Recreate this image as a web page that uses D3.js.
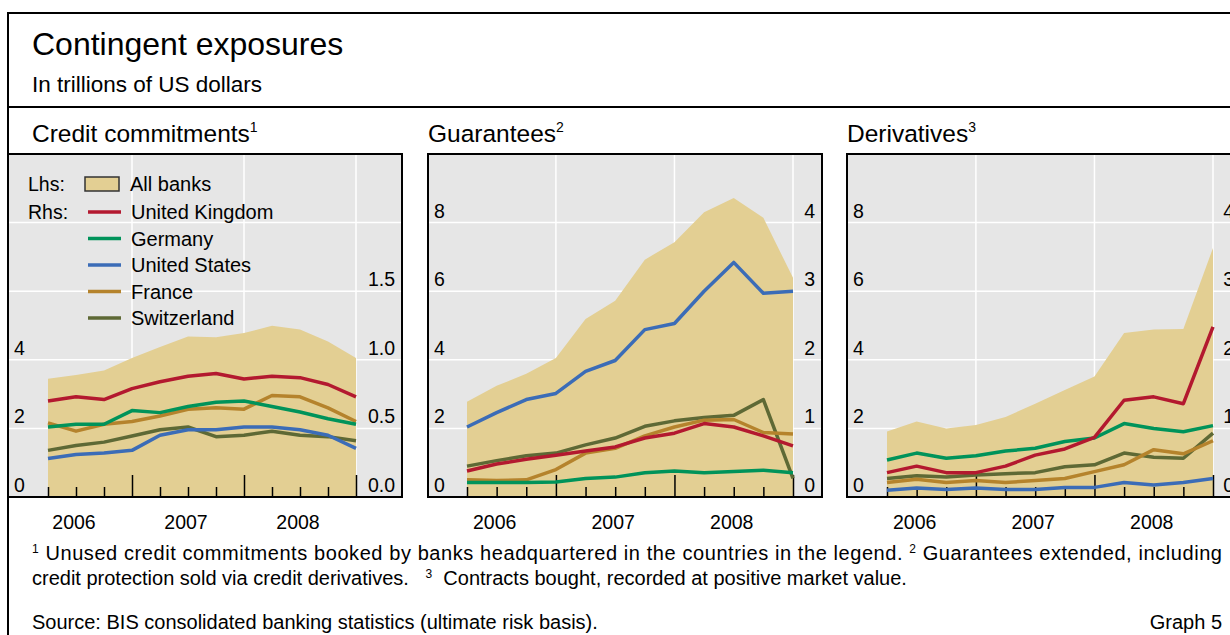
<!DOCTYPE html>
<html>
<head>
<meta charset="utf-8">
<title>Contingent exposures</title>
<style>
  body { margin: 0; background: #fff; }
  svg text { font-family: "Liberation Sans", Arial, sans-serif; fill: #000; }
</style>
</head>
<body>
<script src="https://cdn.jsdelivr.net/npm/d3@7"></script>
<script>
// quarterly observations, end of quarter
var quarters = ["2006Q1","2006Q2","2006Q3","2006Q4","2007Q1","2007Q2","2007Q3","2007Q4","2008Q1","2008Q2","2008Q3","2008Q4"];
var years = [2006, 2007, 2008];

// Credit commitments (all banks lhs, countries rhs)
var creditAllBanks    = [3.45, 3.56, 3.69, 4.05, 4.37, 4.68, 4.66, 4.78, 4.99, 4.88, 4.53, 4.05];
var creditUK          = [0.70, 0.73, 0.71, 0.79, 0.84, 0.88, 0.90, 0.86, 0.88, 0.87, 0.82, 0.73];
var creditGermany     = [0.51, 0.53, 0.53, 0.63, 0.615, 0.66, 0.69, 0.70, 0.66, 0.62, 0.57, 0.53];
var creditUS          = [0.28, 0.31, 0.32, 0.34, 0.45, 0.49, 0.49, 0.51, 0.51, 0.49, 0.45, 0.355];
var creditFrance      = [0.54, 0.48, 0.53, 0.55, 0.59, 0.64, 0.65, 0.64, 0.74, 0.73, 0.65, 0.55];
var creditSwitzerland = [0.34, 0.375, 0.40, 0.445, 0.49, 0.51, 0.44, 0.45, 0.48, 0.45, 0.44, 0.41];

// Guarantees
var guarAllBanks    = [2.78, 3.24, 3.59, 4.05, 5.19, 5.72, 6.92, 7.43, 8.30, 8.72, 8.14, 6.39];
var guarUK          = [0.38, 0.48, 0.55, 0.61, 0.67, 0.73, 0.86, 0.93, 1.07, 1.02, 0.89, 0.745];
var guarGermany     = [0.21, 0.21, 0.21, 0.22, 0.27, 0.29, 0.355, 0.38, 0.355, 0.37, 0.39, 0.355];
var guarUS          = [1.02, 1.23, 1.42, 1.51, 1.83, 1.99, 2.44, 2.53, 3.00, 3.42, 2.97, 3.00];
var guarFrance      = [0.25, 0.24, 0.25, 0.40, 0.64, 0.71, 0.89, 1.02, 1.12, 1.13, 0.94, 0.92];
var guarSwitzerland = [0.45, 0.53, 0.60, 0.64, 0.76, 0.86, 1.03, 1.11, 1.16, 1.19, 1.42, 0.27];

// Derivatives
var derivAllBanks    = [1.91, 2.20, 2.00, 2.10, 2.33, 2.72, 3.12, 3.51, 4.78, 4.88, 4.90, 7.26];
var derivUK          = [0.355, 0.45, 0.355, 0.355, 0.45, 0.61, 0.70, 0.87, 1.41, 1.46, 1.36, 2.48];
var derivGermany     = [0.54, 0.64, 0.565, 0.60, 0.67, 0.71, 0.81, 0.86, 1.07, 1.00, 0.95, 1.04];
var derivUS          = [0.10, 0.13, 0.11, 0.13, 0.11, 0.11, 0.14, 0.14, 0.21, 0.175, 0.21, 0.27];
var derivFrance      = [0.21, 0.26, 0.21, 0.24, 0.21, 0.24, 0.27, 0.37, 0.47, 0.69, 0.63, 0.82];
var derivSwitzerland = [0.27, 0.31, 0.29, 0.32, 0.34, 0.355, 0.44, 0.47, 0.64, 0.58, 0.565, 0.93];

var countryNames = ["United Kingdom", "Germany", "United States", "France", "Switzerland"];
var countryColors = ["#b3192f", "#00935a", "#3b6cb7", "#b5832c", "#5e6935"];
var areaColor = "#e3cf93";
var plotBg = "#e6e6e6";

var panels = [
  { title: "Credit commitments", sup: "1", left: 8, titleX: 32, dataLeft: 48, dataRight: 356,
    all: creditAllBanks, countries: [creditUK, creditGermany, creditUS, creditFrance, creditSwitzerland],
    leftLabels: [0, 2, 4], rightLabels: [0, 0.5, 1, 1.5], rightMax: 2.5, rightFmt: d3.format(".1f") },
  { title: "Guarantees", sup: "2", left: 428, titleX: 428, dataLeft: 467, dataRight: 793,
    all: guarAllBanks, countries: [guarUK, guarGermany, guarUS, guarFrance, guarSwitzerland],
    leftLabels: [0, 2, 4, 6, 8], rightLabels: [0, 1, 2, 3, 4], rightMax: 5, rightFmt: d3.format("d") },
  { title: "Derivatives", sup: "3", left: 847, titleX: 847, dataLeft: 887, dataRight: 1213,
    all: derivAllBanks, countries: [derivUK, derivGermany, derivUS, derivFrance, derivSwitzerland],
    leftLabels: [0, 2, 4, 6, 8], rightLabels: [0, 1, 2, 3, 4], rightMax: 5, rightFmt: d3.format("d") }
];

var width = 1230, height = 635;
var boxW = 394, boxTop = 154, boxBottom = 497;
var fs = "19.5px";

var svg = d3.select("body").append("svg")
    .attr("width", width)
    .attr("height", height);

// outer frame
svg.append("rect")
    .attr("x", 8).attr("y", 13)
    .attr("width", 1300).attr("height", 700)
    .attr("fill", "none").attr("stroke", "#000").attr("stroke-width", 2);
svg.append("line")
    .attr("x1", 8).attr("x2", width).attr("y1", 107).attr("y2", 107)
    .attr("stroke", "#000").attr("stroke-width", 2);

svg.append("text").attr("x", 32).attr("y", 55)
    .style("font-size", "32px").text("Contingent exposures");
svg.append("text").attr("x", 32).attr("y", 92)
    .style("font-size", "22.5px").text("In trillions of US dollars");

var quarterPos = quarters.map(function (q) {
    return +q.slice(0, 4) + (+q.slice(5)) / 4;
});

panels.forEach(function (p) {
    var g = svg.append("g");

    var x = d3.scaleLinear().domain([quarterPos[0], quarterPos[quarterPos.length - 1]])
        .range([p.dataLeft, p.dataRight]);
    var yL = d3.scaleLinear().domain([0, 10]).range([boxBottom, boxTop]);
    var yR = d3.scaleLinear().domain([0, p.rightMax]).range([boxBottom, boxTop]);

    // panel title
    var t = g.append("text").attr("x", p.titleX).attr("y", 142).style("font-size", "24.5px");
    t.append("tspan").text(p.title);
    t.append("tspan").attr("dy", -10).style("font-size", "14px").text(p.sup);

    // background
    g.append("rect")
        .attr("x", p.left).attr("y", boxTop)
        .attr("width", boxW).attr("height", boxBottom - boxTop)
        .attr("fill", plotBg);

    // horizontal gridlines
    g.selectAll(".hgrid").data([2, 4, 6, 8]).enter().append("line")
        .attr("x1", p.left).attr("x2", p.left + boxW)
        .attr("y1", function (d) { return yL(d); })
        .attr("y2", function (d) { return yL(d); })
        .attr("stroke", "#fff").attr("stroke-width", 1.5);

    // vertical gridlines at year ends
    var yearEnds = quarterPos.filter(function (d, i) { return quarters[i].slice(5) === "4"; });
    g.selectAll(".vgrid").data(yearEnds).enter().append("line")
        .attr("x1", function (d) { return x(d); })
        .attr("x2", function (d) { return x(d); })
        .attr("y1", boxTop).attr("y2", boxBottom)
        .attr("stroke", "#fff").attr("stroke-width", 1.5);

    // all banks area (lhs)
    var area = d3.area()
        .x(function (d, i) { return x(quarterPos[i]); })
        .y0(yL(0))
        .y1(function (d) { return yL(d); });
    g.append("path").datum(p.all)
        .attr("d", area)
        .attr("fill", areaColor);

    // tick marks
    var xAxis = d3.axisTop(x).tickValues(quarterPos).tickSizeInner(10).tickSizeOuter(0).tickFormat("");
    var ax = g.append("g").attr("transform", "translate(0," + boxBottom + ")").call(xAxis);
    ax.select(".domain").remove();
    ax.selectAll(".tick line")
        .attr("stroke", "#000").attr("stroke-width", 1.5)
        .attr("y2", function (d) { return (Math.abs(d - Math.round(d)) < 1e-6) ? -22 : -10; });

    // country lines (rhs)
    var line = d3.line()
        .x(function (d, i) { return x(quarterPos[i]); })
        .y(function (d) { return yR(d); });
    var order = [4, 3, 2, 1, 0];
    order.forEach(function (k) {
        g.append("path").datum(p.countries[k])
            .attr("d", line)
            .attr("fill", "none")
            .attr("stroke", countryColors[k])
            .attr("stroke-width", 3.5)
            .attr("stroke-linejoin", "round");
    });

    // axis labels
    g.selectAll(".lab").data(p.leftLabels).enter().append("text")
        .attr("x", p.left + 6)
        .attr("y", function (d) { return yL(d) - 5; })
        .style("font-size", fs)
        .text(function (d) { return d; });
    g.selectAll(".rab").data(p.rightLabels).enter().append("text")
        .attr("x", p.left + boxW - 7)
        .attr("y", function (d) { return yR(d) - 5; })
        .attr("text-anchor", "end")
        .style("font-size", fs)
        .text(function (d) { return p.rightFmt(d); });

    // border
    g.append("rect")
        .attr("x", p.left).attr("y", boxTop)
        .attr("width", boxW).attr("height", boxBottom - boxTop)
        .attr("fill", "none").attr("stroke", "#000").attr("stroke-width", 2);

    // year labels
    g.selectAll(".yr").data(years).enter().append("text")
        .attr("x", function (d) { return x(d + 0.5) - 2; })
        .attr("y", 529)
        .attr("text-anchor", "middle")
        .style("font-size", fs)
        .text(function (d) { return d; });

    // legend in first panel
    if (p.sup === "1") {
        var lg = g.append("g");
        lg.append("text").attr("x", 28).attr("y", 191).style("font-size", fs).text("Lhs:");
        lg.append("rect").attr("x", 85).attr("y", 177).attr("width", 34).attr("height", 14)
            .attr("fill", areaColor).attr("stroke", "#333").attr("stroke-width", 1.5);
        lg.append("text").attr("x", 130).attr("y", 191).style("font-size", "20px").text("All banks");
        lg.append("text").attr("x", 28).attr("y", 219).style("font-size", fs).text("Rhs:");
        countryNames.forEach(function (name, i) {
            var ly = 212 + i * 26.5;
            lg.append("line").attr("x1", 88).attr("x2", 121).attr("y1", ly).attr("y2", ly)
                .attr("stroke", countryColors[i]).attr("stroke-width", 3.5);
            lg.append("text").attr("x", 131).attr("y", ly + 7).style("font-size", "20px").text(name);
        });
    }
});

// footnotes
var f1 = svg.append("text").attr("x", 32).attr("y", 560).style("font-size", "20px")
    .attr("textLength", 1190).attr("lengthAdjust", "spacing");
f1.append("tspan").attr("dy", -7).style("font-size", "12px").text("1");
f1.append("tspan").attr("dy", 7).text(" Unused credit commitments booked by banks headquartered in the countries in the legend.  ");
f1.append("tspan").attr("dy", -7).style("font-size", "12px").text("2");
f1.append("tspan").attr("dy", 7).text(" Guarantees extended, including");

var f2 = svg.append("text").attr("x", 32).attr("y", 585).style("font-size", "20px");
f2.append("tspan").text("credit protection sold via credit derivatives.\u00a0\u00a0 ");
f2.append("tspan").attr("dy", -7).style("font-size", "12px").text("3");
f2.append("tspan").attr("dy", 7).text("\u00a0 Contracts bought, recorded at positive market value.");

svg.append("text").attr("x", 32).attr("y", 629).style("font-size", "20px")
    .text("Source: BIS consolidated banking statistics (ultimate risk basis).");
svg.append("text").attr("x", 1222).attr("y", 629).attr("text-anchor", "end").style("font-size", "20px")
    .text("Graph 5");
</script>
</body>
</html>
